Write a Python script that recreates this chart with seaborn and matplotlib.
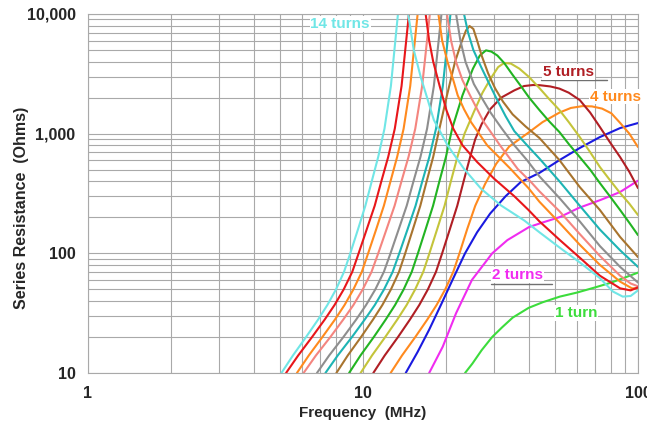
import matplotlib
matplotlib.use("Agg")
import matplotlib.pyplot as plt
import pandas as pd
import seaborn as sns
from matplotlib.ticker import LogLocator, FuncFormatter, NullFormatter

# ---------------------------------------------------------------------------
# Series resistance (Ohms) vs frequency (MHz) for 1..14 turns
# ---------------------------------------------------------------------------

# common resistance levels for the steep rising flank of the 9-14 turn curves
rise_levels = [10, 14, 20, 28, 37, 50, 70, 100, 160, 250, 400, 640, 1100, 2500, 10000]

t14_rise_f = [5.05, 5.56, 6.21, 6.87, 7.42, 7.98, 8.53, 8.99, 9.60, 10.20, 10.76, 11.36, 11.97, 12.63, 13.40]
t14_fall_f = [14.6, 15.3, 16.2, 17.1, 18.1, 20.3, 23.3, 26.9, 31.7, 38.6, 43.8, 51.8, 61.4, 72.7, 81, 88, 94, 100]
t14_fall_r = [10000, 5000, 3000, 2000, 1300, 800, 508, 346, 252, 188, 150, 112, 84, 62, 48, 43.5, 44, 49]

t13_rise_f = [5.25, 5.81, 6.53, 7.26, 7.88, 8.51, 9.14, 9.64, 10.33, 11.03, 11.66, 12.35, 13.05, 13.81, 14.69]
t13_fall_f = [16.9, 17.4, 18.0, 19.0, 20.1, 21.3, 23.0, 26.0, 30.0, 35.5, 40.0, 43.8, 51.8, 61.4, 72.7, 86.1, 94, 100]
t13_fall_r = [10000, 6000, 4000, 2500, 1575, 1100, 800, 580, 420, 300, 230, 185, 130, 92, 65, 51, 49, 52]

t12_rise_f = [5.75, 6.35, 7.12, 7.91, 8.57, 9.23, 9.90, 10.44, 11.18, 11.91, 12.59, 13.31, 14.05, 14.85, 15.80]
t12_fall_f = [18.8, 19.4, 20.3, 21.4, 22.1, 23.3, 24.7, 28.3, 34.4, 40, 43.8, 51.8, 61.4, 72.7, 86.1, 95, 100]
t12_fall_r = [10000, 6000, 3970, 2700, 2090, 1600, 1250, 798, 508, 350, 270, 180, 118, 80, 58, 51, 51]

t11_rise_f = [6.08, 6.74, 7.61, 8.48, 9.23, 9.98, 10.74, 11.36, 12.19, 13.03, 13.80, 14.64, 15.49, 16.41, 17.50]
t11_fall_f = [20.2, 20.9, 21.8, 23.0, 24.5, 27.5, 31.5, 36.5, 41, 43.8, 51.8, 61.4, 72.7, 86.1, 94, 100]
t11_fall_r = [10000, 6000, 3970, 2800, 2090, 1250, 798, 508, 390, 330, 225, 145, 95, 65, 56, 53]

t10_rise_f = [6.80, 7.53, 8.49, 9.45, 10.26, 11.09, 11.91, 12.59, 13.50, 14.42, 15.26, 16.18, 17.10, 18.10, 19.29]
t10_fall_f = [21.8, 22.6, 23.6, 25.3, 27.0, 29.1, 32, 35.5, 39.5, 43.8, 51.8, 61.4, 72.7, 86.1, 100]
t10_fall_r = [10000, 6000, 3970, 2600, 2000, 1500, 1100, 800, 600, 440, 290, 185, 115, 77, 57]

t9_rise_f = [7.30, 8.09, 9.12, 10.15, 11.04, 11.93, 12.82, 13.55, 14.54, 15.53, 16.43, 17.43, 18.43, 19.51, 20.80]
t9_fall_f = [23.3, 24.1, 25.2, 26.9, 28.8, 30.8, 33, 35.5, 39.5, 43.8, 51.8, 61.4, 72.7, 86.1, 100]
t9_fall_r = [10000, 7000, 5000, 3600, 2600, 1900, 1400, 1050, 800, 620, 400, 250, 158, 106, 77]

t8_f = [8.0, 8.8, 9.84, 10.88, 11.76, 12.64, 13.52, 14.24, 15.2, 16.16, 17.04, 18.0, 18.96, 20.2, 21.6,
        22.8, 23.7, 24.4, 25.2, 26.0, 27.0, 28.5, 30.2, 32.3, 35, 39, 43.8, 51.8, 61.4, 72.7, 86.1, 100]
t8_r = [10, 14, 20, 28, 37, 50, 70, 100, 160, 250, 400, 640, 1100, 2090, 3970,
        5800, 7300, 7940, 7500, 6000, 4500, 3200, 2400, 1850, 1450, 1150, 920, 601, 358, 230, 137, 93]

t7_f = [8.9, 9.79, 10.95, 12.10, 13.08, 14.06, 15.04, 15.84, 16.91, 17.98, 18.96, 20.03, 21.09, 23.0, 25.1,
        26.6, 28.0, 29.3, 30.8, 32.6, 35, 37.5, 40.2, 43.8, 47.5, 51.8, 56, 61.4, 67, 72.7, 79, 86.1, 93, 100]
t7_r = [10, 14, 20, 28, 37, 50, 70, 100, 160, 250, 400, 640, 1100, 2090, 3490,
        4500, 4970, 4850, 4500, 3900, 3100, 2500, 2000, 1575, 1270, 1031, 820, 637, 500, 386, 300, 230, 180, 142]

t6_f = [9.8, 10.78, 12.05, 13.33, 14.41, 15.48, 16.56, 17.44, 18.62, 19.80, 20.87, 22.05, 23.4, 25.3, 27.2,
        29.1, 31.0, 32.6, 34.5, 37, 40.2, 43.8, 47.5, 51.8, 56, 61.4, 67, 72.7, 79, 86.1, 93, 100]
t6_r = [10, 14, 20, 28, 37, 50, 70, 100, 160, 250, 400, 640, 1000, 1520, 2200,
        2880, 3600, 3900, 3850, 3500, 2970, 2405, 1950, 1575, 1250, 937, 700, 526, 410, 319, 260, 209]

t5_f = [10.9, 11.99, 13.41, 14.82, 16.02, 17.22, 18.42, 19.40, 20.71, 22.02, 23.22, 24.53, 25.6, 27.0, 29.0,
        31.8, 35.5, 38.5, 41.5, 44, 48, 51.8, 56, 61.4, 67, 72.7, 79, 86.1, 93, 100]
t5_r = [10, 14, 20, 28, 37, 50, 70, 100, 160, 250, 400, 640, 900, 1200, 1600,
        2000, 2300, 2500, 2550, 2540, 2480, 2380, 2200, 1910, 1500, 1136, 850, 637, 480, 351]

t4_f = [12.6, 13.86, 15.5, 17.14, 18.52, 19.91, 21.29, 22.43, 23.94, 25.6, 27.8, 30.5, 34, 40.2, 45,
        51.8, 57, 62.9, 68, 74, 80, 86.1, 93, 100]
t4_r = [10, 14, 20, 28, 37, 50, 70, 100, 160, 250, 380, 560, 780, 1030, 1250,
        1500, 1640, 1700, 1690, 1620, 1480, 1230, 1000, 773]

t3_f = [14.3, 15.8, 17.4, 19.3, 21.3, 23.5, 26, 29, 33, 37.5, 43.8, 51.8, 61.4, 72.7, 86.1, 100]
t3_r = [10, 15, 23, 38, 62, 100, 150, 215, 300, 395, 470, 601, 759, 937, 1114, 1227]

t2_f = [17.4, 19.5, 21.8, 24.9, 29.5, 33.5, 40.2, 45, 52, 61, 73, 86, 100]
t2_r = [10, 16.6, 31.6, 60, 100, 129, 166, 181, 201, 240, 279, 325, 405]

t1_f = [23.5, 25, 27, 29.5, 32, 35, 40, 45, 52, 60, 70, 80, 90, 100]
t1_r = [10, 12, 15.5, 20, 24, 29, 35, 39, 43.5, 47, 52, 57, 63, 69]

turn_colors = {
    1: "#3cdc3c", 2: "#f02cf0", 3: "#1a1ae0", 4: "#ff8a1e", 5: "#b01e24",
    6: "#c4c43a", 7: "#22b422", 8: "#a8742e", 9: "#1eb4b4", 10: "#8e8e8e",
    11: "#f4857f", 12: "#ff8a1e", 13: "#e8161a", 14: "#70e6e6",
}

# curve labels: text, position (MHz, Ohms) and the curve they name
label_text = ["14 turns", "5 turns", "4 turns", "2 turns", "1 turn"]
label_f = [8.25, 56.0, 82.5, 36.5, 59.4]
label_r = [8250, 3275, 2040, 66, 31.6]
label_turns = [14, 5, 4, 2, 1]

# ---------------------------------------------------------------------------
# assemble one long table; each curve may consist of several segments
# (the high-turn curves leave the plot at the top and come back down)
# ---------------------------------------------------------------------------
segments = []
off_top = {
    14: (t14_rise_f, t14_fall_f, t14_fall_r),
    13: (t13_rise_f, t13_fall_f, t13_fall_r),
    12: (t12_rise_f, t12_fall_f, t12_fall_r),
    11: (t11_rise_f, t11_fall_f, t11_fall_r),
    10: (t10_rise_f, t10_fall_f, t10_fall_r),
    9: (t9_rise_f, t9_fall_f, t9_fall_r),
}
for n, (rf, ff, fr) in off_top.items():
    segments.append((n, "rise", rf, rise_levels))
    segments.append((n, "fall", ff, fr))
whole = {8: (t8_f, t8_r), 7: (t7_f, t7_r), 6: (t6_f, t6_r), 5: (t5_f, t5_r),
         4: (t4_f, t4_r), 3: (t3_f, t3_r), 2: (t2_f, t2_r), 1: (t1_f, t1_r)}
for n, (f, r) in whole.items():
    segments.append((n, "all", f, r))

rows = []
for n, part, f, r in segments:
    for fi, ri in zip(f, r):
        rows.append({"turns": n, "segment": f"{n}-{part}", "freq": fi, "res": ri})
df = pd.DataFrame(rows)

# ---------------------------------------------------------------------------
sns.set_style("white")
plt.rcParams["font.family"] = ["Liberation Sans", "DejaVu Sans"]
plt.rcParams["font.weight"] = "bold"

fig = plt.figure(figsize=(6.47, 4.21), dpi=100)
ax = fig.add_axes([88 / 647, 48 / 421, 550 / 647, 359 / 421])

grid_color = "#a9a9a9"
ax.set_xscale("log")
ax.set_yscale("log")
ax.set_xlim(1, 100)
ax.set_ylim(10, 10000)
ax.xaxis.set_major_locator(LogLocator(base=10))
ax.xaxis.set_minor_locator(LogLocator(base=10, subs=range(2, 10)))
ax.yaxis.set_major_locator(LogLocator(base=10))
ax.yaxis.set_minor_locator(LogLocator(base=10, subs=range(2, 10)))
ax.xaxis.set_minor_formatter(NullFormatter())
ax.yaxis.set_minor_formatter(NullFormatter())
ax.xaxis.set_major_formatter(FuncFormatter(lambda v, p: f"{int(round(v))}"))
ax.yaxis.set_major_formatter(FuncFormatter(lambda v, p: f"{int(round(v)):,}"))
ax.grid(which="both", color=grid_color, linewidth=0.8)
ax.set_axisbelow(True)
for s in ax.spines.values():
    s.set_color(grid_color)
    s.set_linewidth(0.8)
ax.tick_params(which="major", length=4, color=grid_color, labelsize=11.5, pad=5)
ax.tick_params(axis="x", which="major", pad=5.5)
ax.tick_params(which="minor", length=0)

hue_order = list(range(1, 15))
sns.lineplot(data=df, x="freq", y="res", hue="turns", units="segment", estimator=None,
             sort=False, palette=turn_colors, hue_order=hue_order, linewidth=1.5,
             legend=False, ax=ax)

ax.set_xlabel("Frequency  (MHz)", fontsize=11, fontweight="bold")
ax.set_ylabel("Series Resistance  (Ohms)", fontsize=11.5, fontweight="bold")
ax.xaxis.set_label_coords(0.5, -0.092)
ax.yaxis.set_label_coords(-0.108, 0.46)

for txt, lf, lr, n in zip(label_text, label_f, label_r, label_turns):
    ax.text(lf, lr, txt, color=turn_colors[n], fontsize=11, fontweight="bold",
            ha="center", va="center", clip_on=False, zorder=5,
            bbox=dict(facecolor="white", edgecolor="none", pad=0.6))

# short leader lines under two of the labels
ax.plot([44.5, 77.0], [2805, 2805], color="#707070", lw=1.0, zorder=4)
ax.plot([29.3, 48.7], [55.2, 55.2], color="#707070", lw=1.0, zorder=4)

fig.savefig("out.png", dpi=100)
